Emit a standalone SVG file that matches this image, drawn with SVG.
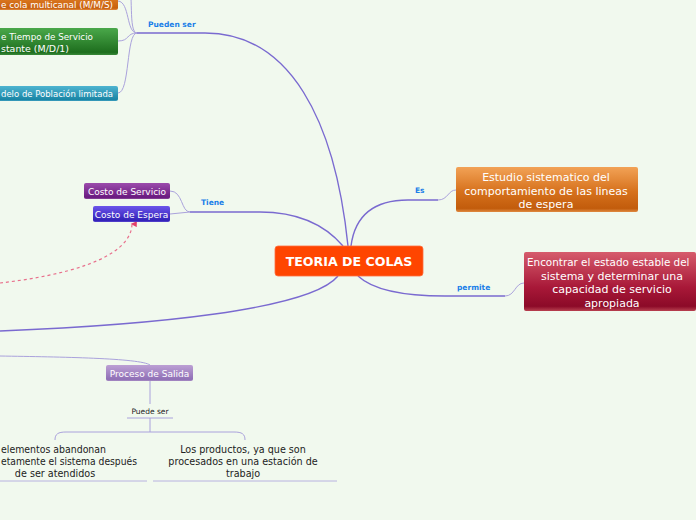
<svg xmlns="http://www.w3.org/2000/svg" width="696" height="520" viewBox="0 0 696 520">
<defs>
<linearGradient id="gOrange" x1="0" y1="0" x2="0" y2="1"><stop offset="0" stop-color="#f2a256"/><stop offset="0.55" stop-color="#d6711c"/><stop offset="0.92" stop-color="#c25c0c"/><stop offset="1" stop-color="#e08a40"/></linearGradient>
<linearGradient id="gOrange2" x1="0" y1="0" x2="0" y2="1"><stop offset="0" stop-color="#e8892e"/><stop offset="0.9" stop-color="#c8600e"/><stop offset="1" stop-color="#e08a40"/></linearGradient>
<linearGradient id="gGreen" x1="0" y1="0" x2="0" y2="1"><stop offset="0" stop-color="#4aa84a"/><stop offset="0.9" stop-color="#1e6e1e"/><stop offset="1" stop-color="#3a8a3a"/></linearGradient>
<linearGradient id="gTeal" x1="0" y1="0" x2="0" y2="1"><stop offset="0" stop-color="#4eb4d0"/><stop offset="0.9" stop-color="#1a86a6"/><stop offset="1" stop-color="#40a0c0"/></linearGradient>
<linearGradient id="gCrimson" x1="0" y1="0" x2="0" y2="1"><stop offset="0" stop-color="#d65c6c"/><stop offset="0.6" stop-color="#a81838"/><stop offset="0.92" stop-color="#8c0a28"/><stop offset="1" stop-color="#b84050"/></linearGradient>
<linearGradient id="gPurple" x1="0" y1="0" x2="0" y2="1"><stop offset="0" stop-color="#9c4cac"/><stop offset="0.9" stop-color="#6a1a80"/><stop offset="1" stop-color="#8a4a9a"/></linearGradient>
<linearGradient id="gBlue" x1="0" y1="0" x2="0" y2="1"><stop offset="0" stop-color="#6c54ea"/><stop offset="0.9" stop-color="#3222b8"/><stop offset="1" stop-color="#5a48d0"/></linearGradient>
<linearGradient id="gLav" x1="0" y1="0" x2="0" y2="1"><stop offset="0" stop-color="#bca0d4"/><stop offset="0.9" stop-color="#9070b6"/><stop offset="1" stop-color="#a88cc4"/></linearGradient>
<marker id="arrRed" viewBox="0 0 10 10" refX="5" refY="2" markerWidth="6" markerHeight="6" orient="auto-start-reverse" markerUnits="userSpaceOnUse"><path d="M0,10 L5,0 L10,10 Z" fill="#e0406a"/></marker>
<style>
.t{font-family:"DejaVu Sans",Verdana,sans-serif;fill:#fff;}
.s9{font-size:9px;}
.s11{font-size:11px;}
.lbl{font-family:"DejaVu Sans",Verdana,sans-serif;font-size:7.5px;font-weight:bold;fill:#1a7fe8;}
.dk{font-family:"DejaVu Sans",Verdana,sans-serif;fill:#222;font-size:9.6px;}
.main{fill:none;stroke:#7a6ad0;stroke-width:1.4;}
.br{fill:none;stroke:#aaa2dc;stroke-width:1;}
.ul{fill:none;stroke:#b8b2e0;stroke-width:1;}
</style>
</defs>
<rect width="696" height="520" fill="#f1f9ee"/>
<g id="connectors">
<path class="main" d="M137 33 L205 33 C290 33 335 120 348 246"/>
<path class="br" d="M137 33 C126 33 130 2 118 1"/>
<path class="br" d="M137 33 C128 33 134 -10 128 -20"/>
<path class="br" d="M137 33 C126 33 130 41 118 41"/>
<path class="br" d="M137 33 C126 33 130 93 118 93"/>
<path class="main" d="M351 246 C355 215 375 200 408 200 L438 200"/>
<path class="br" d="M438 200 C448 200 448 190 456 190"/>
<path class="main" d="M358 276 C375 292 410 296 445 296 L505 296"/>
<path class="br" d="M505 296 C515 296 515 283 524 283"/>
<path class="main" d="M343 246 C325 225 300 212 260 212 L190 212"/>
<path class="br" d="M190 212 C181 212 183 191 170 191"/>
<path class="br" d="M190 212 L170 214"/>
<path fill="none" stroke="#e8708c" stroke-width="1.2" stroke-dasharray="3,3" d="M0 283 C60 276 131 260 132 224" marker-end="url(#arrRed)"/>
<path class="main" d="M338 276 C310 310 150 325 0 331"/>
<path class="br" d="M0 356 C60 357 140 358 150 365"/>
<path class="br" d="M150 381 L150 404"/>
<path class="br" d="M127 418 L173 418 M150 418 L150 432"/>
<path class="br" d="M55 440 C55 434 58 432 66 432 L234 432 C242 432 245 434 245 440"/>
<path class="ul" d="M0 481 L147 481 M153 481 L337 481"/>
</g>
<g id="lbl-pueden"><text class="lbl" x="148" y="27">Pueden ser</text></g>
<g id="lbl-es"><text class="lbl" x="415" y="193">Es</text></g>
<g id="lbl-permite"><text class="lbl" x="457" y="290">permite</text></g>
<g id="lbl-tiene"><text class="lbl" x="201" y="205">Tiene</text></g>
<g id="lbl-puede"><text class="dk" x="150" y="414" style="font-size:7.5px" text-anchor="middle">Puede ser</text></g>
<g id="n-center">
<rect x="275" y="246" width="148" height="30" rx="3" fill="#ff4500" stroke="#ff7040" stroke-width="0.8"/>
<text class="t" x="349" y="265.5" font-size="12.6" font-weight="bold" text-anchor="middle">TEORIA DE COLAS</text>
</g>
<g id="n-mms">
<rect x="-5" y="-8" width="123" height="18" rx="2" fill="url(#gOrange2)"/>
<text class="t s9" x="1" y="7.5" textLength="112" lengthAdjust="spacingAndGlyphs">e cola multicanal (M/M/S)</text>
</g>
<g id="n-md1">
<rect x="-5" y="28" width="123" height="27" rx="2" fill="url(#gGreen)"/>
<text class="t s9" x="1" y="40" textLength="92" lengthAdjust="spacingAndGlyphs">e Tiempo de Servicio</text>
<text class="t s9" x="1" y="51.5" textLength="68" lengthAdjust="spacingAndGlyphs">stante (M/D/1)</text>
</g>
<g id="n-pob">
<rect x="-5" y="86" width="123" height="15" rx="2" fill="url(#gTeal)"/>
<text class="t s9" x="1" y="97" textLength="112" lengthAdjust="spacingAndGlyphs">delo de Población limitada</text>
</g>
<g id="n-estudio">
<rect x="456" y="167" width="182" height="45" rx="2" fill="url(#gOrange)"/>
<text class="t s11" x="546" y="181" text-anchor="middle">Estudio sistematico del</text>
<text class="t s11" x="546" y="194.5" text-anchor="middle">comportamiento de las lineas</text>
<text class="t s11" x="546" y="208" text-anchor="middle">de espera</text>
</g>
<g id="n-encontrar">
<rect x="524" y="252" width="172" height="59" rx="2" fill="url(#gCrimson)"/>
<text class="t" x="527" y="266" font-size="10.4">Encontrar el estado estable del</text>
<text class="t s11" x="612" y="279.5" text-anchor="middle">sistema y determinar una</text>
<text class="t s11" x="612" y="293" text-anchor="middle">capacidad de servicio</text>
<text class="t s11" x="612" y="306.5" text-anchor="middle">apropiada</text>
</g>
<g id="n-servicio">
<rect x="84" y="183" width="86" height="16" rx="2" fill="url(#gPurple)"/>
<text class="t s9" x="127" y="194.5" text-anchor="middle">Costo de Servicio</text>
</g>
<g id="n-espera">
<rect x="93" y="206" width="77" height="16" rx="2" fill="url(#gBlue)"/>
<text class="t s9" x="131.5" y="217.5" text-anchor="middle">Costo de Espera</text>
</g>
<g id="n-salida">
<rect x="106" y="365" width="87" height="16" rx="2" fill="url(#gLav)"/>
<text class="t s9" x="149.5" y="376.5" text-anchor="middle">Proceso de Salida</text>
</g>
<g id="n-elementos">
<text class="dk" x="1" y="453" textLength="105" lengthAdjust="spacingAndGlyphs">elementos abandonan</text>
<text class="dk" x="1" y="465" textLength="136" lengthAdjust="spacingAndGlyphs">etamente el sistema después</text>
<text class="dk" x="55" y="477" text-anchor="middle">de ser atendidos</text>
</g>
<g id="n-productos">
<text class="dk" x="243" y="453" text-anchor="middle">Los productos, ya que son</text>
<text class="dk" x="243" y="465" text-anchor="middle">procesados en una estación de</text>
<text class="dk" x="243" y="477" text-anchor="middle">trabajo</text>
</g>
</svg>
